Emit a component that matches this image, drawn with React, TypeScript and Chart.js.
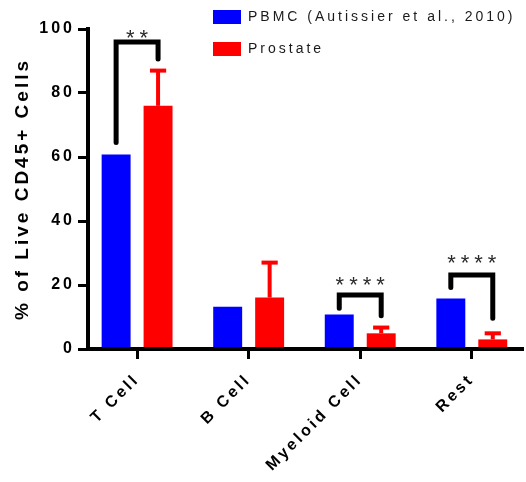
import React, { useEffect, useRef } from 'react';
import { Chart, registerables } from 'chart.js';

Chart.register(...registerables);

// ---------- data ----------
const categories = ['T Cell', 'B Cell', 'Myeloid Cell', 'Rest'];
const seriesNames = ['PBMC (Autissier et al., 2010)', 'Prostate'];
const pbmcValues = [60.8, 13.2, 10.8, 15.8];
const prostateValues = [76.0, 16.1, 4.9, 3.0];
const prostateErrorTop = [87.0, 27.0, 6.7, 4.9];
const yTickValues = [0, 20, 40, 60, 80, 100];
const yTitle = '% of Live CD45+ Cells';

// significance brackets (null = none)
const sigLabels = ['**', null, '****', '****'];
const bracketLeftEnd = [64.5, null, 12.7, 19.2];
const bracketTopValue = [95.9, null, 16.9, 23.1];
const bracketRightEnd = [90.6, null, 10.4, 9.6];
const sigLabelValue = [98.4, null, 21.4, 28.2];

// ---------- style ----------
const FONT = "'Liberation Sans', Arial, Helvetica, sans-serif";
const BLUE = '#0000ff';
const RED = '#ff0000';
const CANVAS_W = 526;
const CANVAS_H = 482;
const Y_AXIS_WIDTH = 88;
const X_AXIS_HEIGHT = 133;
const X_PAD_LEFT = 0.44;
const X_PAD_RIGHT = 0.45;
const LEGEND_LEFT = 195;
const LEGEND_TOP = -8;
const STAR_SPACING = 5;

const letterSpacingPlugin = {
  id: 'letterSpacing',
  beforeUpdate(chart: any) {
    chart.ctx.letterSpacing = '3px';
  },
  beforeLayout(chart: any) {
    chart.ctx.letterSpacing = '3px';
  },
  beforeDraw(chart: any) {
    chart.ctx.letterSpacing = '3px';
  },
};

const legendPlacement = {
  id: 'legendPlacement',
  afterLayout(chart: any) {
    const lg = chart.legend;
    if (!lg) return;
    const h = lg.height;
    lg.left = LEGEND_LEFT;
    lg.right = chart.width;
    lg.top = LEGEND_TOP;
    lg.bottom = LEGEND_TOP + h;
  },
};

const annotations = {
  id: 'annotations',
  afterDatasetsDraw(chart: any) {
    const ctx = chart.ctx;
    const yScale = chart.scales.y;
    const metaBlue = chart.getDatasetMeta(0);
    const metaRed = chart.getDatasetMeta(1);
    ctx.save();

    // error bars (upper only)
    ctx.strokeStyle = RED;
    ctx.lineCap = 'butt';
    prostateErrorTop.forEach((top, i) => {
      const bar = metaRed.data[i];
      if (!bar) return;
      const x = bar.x;
      const yTop = yScale.getPixelForValue(top);
      const capHalf = bar.width * 0.28;
      ctx.lineWidth = 4;
      ctx.beginPath();
      ctx.moveTo(x, bar.y);
      ctx.lineTo(x, yTop);
      ctx.stroke();
      ctx.beginPath();
      ctx.moveTo(x - capHalf, yTop);
      ctx.lineTo(x + capHalf, yTop);
      ctx.stroke();
    });

    // significance brackets
    categories.forEach((_, i) => {
      const label = sigLabels[i];
      if (label == null) return;
      const xl = metaBlue.data[i].x;
      const xr = metaRed.data[i].x;
      const yTop = yScale.getPixelForValue(bracketTopValue[i] as number);
      ctx.strokeStyle = '#000';
      ctx.lineWidth = 5;
      ctx.lineJoin = 'miter';
      ctx.lineCap = 'round';
      ctx.beginPath();
      ctx.moveTo(xl, yScale.getPixelForValue(bracketLeftEnd[i] as number));
      ctx.lineTo(xl, yTop);
      ctx.lineTo(xr, yTop);
      ctx.lineTo(xr, yScale.getPixelForValue(bracketRightEnd[i] as number));
      ctx.stroke();

      ctx.font = `22px ${FONT}`;
      ctx.fillStyle = '#2b2b2b';
      ctx.letterSpacing = `${STAR_SPACING}px`;
      ctx.textAlign = 'left';
      ctx.textBaseline = 'alphabetic';
      const m = ctx.measureText(label);
      const w = m.width - STAR_SPACING;
      const cy = yScale.getPixelForValue(sigLabelValue[i] as number);
      ctx.fillText(
        label,
        (xl + xr) / 2 - w / 2,
        cy + (m.actualBoundingBoxAscent - m.actualBoundingBoxDescent) / 2
      );
    });

    ctx.restore();
  },
};

export default function App() {
  const ref = useRef<HTMLCanvasElement>(null);

  useEffect(() => {
    if (!ref.current) return;
    const chart = new Chart(ref.current, {
      type: 'bar',
      data: {
        labels: categories,
        datasets: [
          {
            label: seriesNames[0],
            data: pbmcValues,
            backgroundColor: BLUE,
            borderWidth: 0,
            categoryPercentage: 0.752,
            barPercentage: 0.69,
          },
          {
            label: seriesNames[1],
            data: prostateValues,
            backgroundColor: RED,
            borderWidth: 0,
            categoryPercentage: 0.752,
            barPercentage: 0.69,
          },
        ],
      },
      options: {
        responsive: false,
        animation: false,
        devicePixelRatio: 1,
        layout: { padding: { top: 29, right: 4, bottom: 0, left: 0 } },
        plugins: {
          tooltip: { enabled: false },
          legend: {
            position: 'chartArea' as any,
            align: 'start',
            labels: {
              boxWidth: 28,
              boxHeight: 14,
              padding: 18,
              color: '#1a1a1a',
              font: { family: FONT, size: 14 },
            },
          },
        },
        scales: {
          x: {
            type: 'category',
            offset: true,
            afterBuildTicks: (s: any) => {
              s._startValue = s.min - X_PAD_LEFT;
              s._valueRange = s.max - s.min + X_PAD_LEFT + X_PAD_RIGHT;
            },
            afterFit: (s: any) => {
              s.height = X_AXIS_HEIGHT;
            },
            grid: {
              display: true,
              drawOnChartArea: false,
              drawTicks: true,
              tickLength: 10,
              color: '#000',
              lineWidth: 3,
              offset: false,
            },
            border: { display: true, color: '#000', width: 4, z: 1 },
            ticks: {
              color: '#000',
              font: { family: FONT, size: 16, weight: 'bold' },
              minRotation: 45,
              maxRotation: 45,
              autoSkip: false,
              padding: 11,
            },
          },
          y: {
            type: 'linear',
            min: 0,
            max: 100,
            afterBuildTicks: (s: any) => {
              s.ticks = yTickValues.map((v) => ({ value: v }));
            },
            afterFit: (s: any) => {
              s.width = Y_AXIS_WIDTH;
            },
            grid: {
              display: true,
              drawOnChartArea: false,
              drawTicks: true,
              tickLength: 10,
              color: '#000',
              lineWidth: 3,
            },
            border: { display: true, color: '#000', width: 4, z: 1 },
            ticks: {
              color: '#000',
              font: { family: FONT, size: 16, weight: 'bold' },
              padding: 3,
            },
            title: {
              display: true,
              text: yTitle,
              color: '#000',
              font: { family: FONT, size: 19, weight: 'bold' },
              padding: { top: 11, bottom: 0 },
            },
          },
        },
      } as any,
      plugins: [letterSpacingPlugin, legendPlacement, annotations],
    });
    return () => chart.destroy();
  }, []);

  return (
    <div
      style={{
        position: 'absolute',
        left: 0,
        top: 0,
        width: CANVAS_W,
        height: CANVAS_H,
        background: '#fff',
      }}
    >
      <canvas
        ref={ref}
        width={CANVAS_W}
        height={CANVAS_H}
        style={{ display: 'block', width: CANVAS_W, height: CANVAS_H }}
      />
    </div>
  );
}
